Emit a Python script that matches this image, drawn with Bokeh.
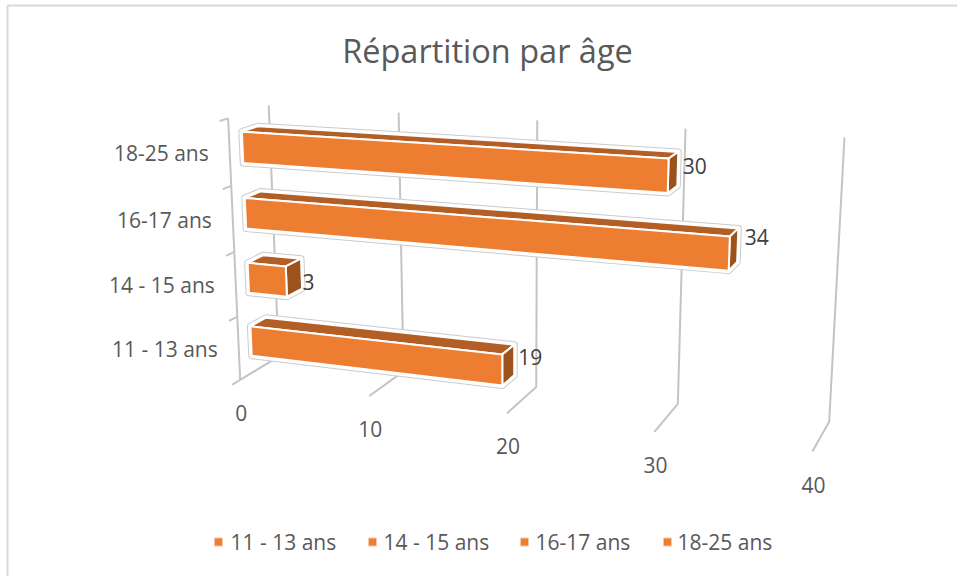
import numpy as np
from bokeh.plotting import figure
from bokeh.models import Range1d
from bokeh.core.properties import value as V
from bokeh.embed import file_html
from bokeh.resources import INLINE

TITLE = "Répartition par âge"
categories = ["11 - 13 ans", "14 - 15 ans", "16-17 ans", "18-25 ans"]
values = [19, 3, 34, 30]
value_ticks = [0, 10, 20, 30, 40]

ORANGE, TOP, SIDE = "#ED7D31", "#B35E25", "#9C521B"
GRID, FRAME, TXT, LBL = "#C4C4C4", "#D9D9D9", "#595959", "#404040"
FONT = "Open Sans"

# Camera: pairs of (value, category position, depth) and where they land on the page
anchors = [
    (0, 0, 0, 241.7, 378), (10, 0, 0, 368, 395), (20, 0, 0, 506, 413), (30, 0, 0, 653, 432), (40, 0, 0, 813, 452),
    (0, 0, 1, 275, 358), (10, 0, 1, 405, 372), (20, 0, 1, 537, 385), (30, 0, 1, 677, 403), (40, 0, 1, 828, 420),
    (0, 4, 1, 270, 103), (10, 4, 1, 398, 113), (20, 4, 1, 536, 121), (30, 4, 1, 684, 128), (40, 4, 1, 845, 137),
    (0, 4, 0, 226.7, 118),
]
rows = []
for a, b, c, x, y in anchors:
    rows.append([a, b, c, 1, 0, 0, 0, 0, -x * a, -x * b, -x * c, -x])
    rows.append([0, 0, 0, 0, a, b, c, 1, -y * a, -y * b, -y * c, -y])
M = np.linalg.svd(np.array(rows, float))[2][-1].reshape(3, 4)


def proj(a, b, c):
    w = M @ np.array([a, b, c, 1.0])
    return w[0] / w[2], w[1] / w[2]


def path(points):
    pts = [proj(*q) for q in points]
    return [q[0] for q in pts], [q[1] for q in pts]


p = figure(width=957, height=576, x_range=Range1d(0, 957), y_range=Range1d(576, 0),
           output_backend="svg", toolbar_location=None, min_border=0, margin=0)
p.axis.visible = False
p.grid.visible = False
p.outline_line_color = None

# chart frame
p.line([7, 7, 957], [576, 5, 5], line_color=FRAME, line_width=2)

# grid
xs, ys = [], []
for t in value_ticks:
    a, b = path([(t, 4, 1), (t, 0, 1), (t, 0, 0)])
    xs.append(a); ys.append(b)
a, b = path([(0, 4, 0), (0, 0, 0)])
xs.append(a); ys.append(b)
for h in range(5):
    a, b = path([(0, h, 0), (0, h, -0.2)])
    xs.append(a); ys.append(b)
p.multi_line(xs, ys, line_color=GRID, line_width=2)

# bars
H0, H1, D0, D1 = 0.27, 0.74, 0.31, 0.71
sil_x, sil_y, fx, fy, tx, ty, sx, sy = [], [], [], [], [], [], [], []
for i, v in enumerate(values):
    lo, hi = i + H0, i + H1
    a, b = path([(0, lo, D0), (v, lo, D0), (v, lo, D1), (v, hi, D1), (0, hi, D1), (0, hi, D0)])
    sil_x.append(a); sil_y.append(b)
    a, b = path([(0, lo, D0), (v, lo, D0), (v, hi, D0), (0, hi, D0)])
    fx.append(a); fy.append(b)
    a, b = path([(0, hi, D0), (v, hi, D0), (v, hi, D1), (0, hi, D1)])
    tx.append(a); ty.append(b)
    a, b = path([(v, lo, D0), (v, lo, D1), (v, hi, D1), (v, hi, D0)])
    sx.append(a); sy.append(b)
p.patches(sil_x, sil_y, fill_color="white", line_color="#CBCBCB", line_width=7, line_join="round")
p.patches(sil_x, sil_y, fill_color="white", line_color="white", line_width=5, line_join="round")
p.patches(tx, ty, fill_color=TOP, line_color="white", line_width=2)
p.patches(sx, sy, fill_color=SIDE, line_color="white", line_width=2)
p.patches(fx, fy, fill_color=ORANGE, line_color="white", line_width=2)

# data labels: each nudged off the bar end as in the reference
label_dx = [4, 1, 7, 5]
label_dy = [-3, 8, -8, -3]
pts = [proj(v, i + (H0 + H1) / 2, D1) for i, v in enumerate(values)]
p.text([q[0] for q in pts], [q[1] for q in pts], text=[str(v) for v in values],
       x_offset=label_dx, y_offset=label_dy,
       text_font=V(FONT), text_font_size="21px", text_color=LBL, text_align="left", text_baseline="middle")

# category labels
pts = [proj(0, i + 0.5, 0) for i in range(len(categories))]
p.text([q[0] for q in pts], [q[1] for q in pts], text=categories, x_offset=-21, y_offset=0.5,
       text_font=V(FONT), text_font_size="21px", text_color=TXT, text_align="right", text_baseline="middle")

# value labels
pts = [proj(t, 0, 0) for t in value_ticks]
p.text([q[0] for q in pts], [q[1] for q in pts], text=[str(t) for t in value_ticks], x_offset=1, y_offset=33,
       text_font=V(FONT), text_font_size="21px", text_color=TXT, text_align="center", text_baseline="middle")

# title
p.text([487], [49.5], text=[TITLE], text_font=V(FONT), text_font_size="32.5px", text_color=TXT,
       text_align="center", text_baseline="middle")

# legend
leg_sw = [218, 372, 524, 667]
leg_tx = [230, 383, 535, 677]
p.scatter(leg_sw, [541.5] * 4, marker="square", size=8, fill_color=ORANGE, line_color="#F7C8A8", line_width=1)
p.text(leg_tx, [541.5] * 4, text=categories, text_font=V(FONT), text_font_size="21px", text_color=TXT,
       text_align="left", text_baseline="middle")

open("out.html", "w").write(file_html(p, INLINE))
